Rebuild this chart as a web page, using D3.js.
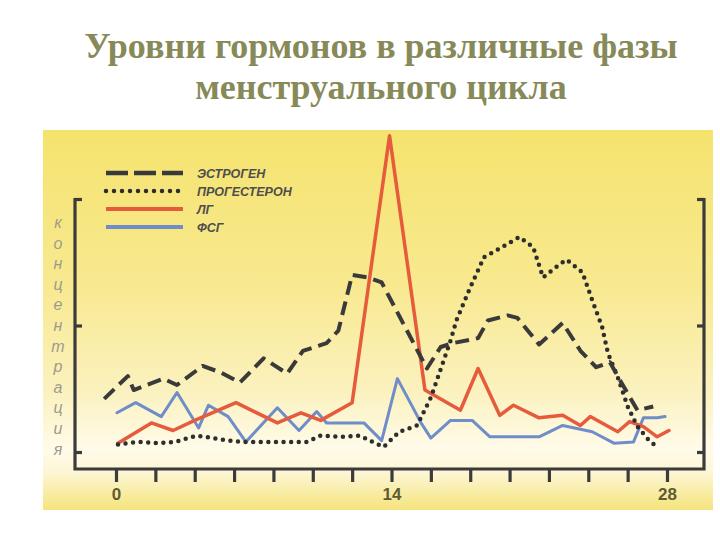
<!DOCTYPE html>
<html>
<head>
<meta charset="utf-8">
<script src="https://cdn.jsdelivr.net/npm/d3@7"></script>
<style>
  html, body { margin: 0; padding: 0; background: #ffffff; }
  svg { display: block; }
</style>
</head>
<body>
<svg id="chart" width="720" height="540"></svg>
<script>
// ---------- data (day of cycle, relative concentration) ----------
const titleLines = ["Уровни гормонов в различные фазы", "менструального цикла"];
const seriesNames = ["ЭСТРОГЕН", "ПРОГЕСТЕРОН", "ЛГ", "ФСГ"];
const yAxisLabel = "концентрация";
const xTickValues = [0, 2, 4, 6, 8, 10, 12, 14, 16, 18, 20, 22, 24, 26, 28];
const xTickLabels = [0, 14, 28];
const yTickValues = [0, 50, 100];

const estrogen = [
  [-0.6, 21], [0.6, 30], [0.9, 24.5], [2.4, 29], [3.1, 26.5], [4.4, 34], [5.3, 31.5],
  [6.3, 27.5], [7.5, 37], [8.7, 31], [9.5, 40], [10.7, 43], [11.3, 48], [12.0, 70],
  [12.8, 69], [13.5, 67], [15.8, 33], [16.5, 41.5], [17.1, 43], [18.4, 45], [18.9, 52],
  [19.9, 54], [20.4, 53], [21.5, 42.5], [22.7, 51], [23.6, 40], [24.4, 33.5], [25.1, 35.5],
  [25.6, 28.5], [26.5, 16.5], [27.3, 18]
];
const progesterone = [
  [0.1, 3], [1.1, 4], [2.2, 3.5], [3.0, 4], [4.1, 6.5], [5.3, 5], [6.3, 4], [8.3, 4],
  [9.7, 4], [10.4, 6.5], [11.4, 6], [12.4, 6.5], [12.9, 4.5], [13.6, 2], [14.4, 8],
  [15.3, 10.5], [16.0, 21.5], [17.0, 44], [17.3, 52], [18.0, 65], [18.7, 77], [19.4, 80],
  [20.5, 85], [21.2, 81], [21.7, 69], [22.6, 74.5], [22.9, 76], [23.7, 71], [24.2, 60],
  [24.7, 49.5], [25.0, 39], [25.5, 29.5], [26.0, 18], [26.5, 10], [27.1, 4.5], [27.5, 2]
];
const lh = [
  [0.1, 3.5], [1.8, 11.5], [2.9, 8.5], [4.0, 12.5], [6.1, 19.5], [8.2, 11.5], [9.4, 15.5],
  [10.4, 12.5], [12.0, 19.5], [13.9, 125], [15.7, 24.5], [17.5, 16.5], [18.4, 33],
  [19.5, 14.5], [20.2, 18.5], [21.5, 13.5], [22.7, 14.5], [23.6, 10.5], [24.1, 14],
  [25.5, 8], [26.1, 12], [26.8, 10], [27.5, 6], [28.1, 8.5]
];
const fsh = [
  [0.05, 15.5], [1.0, 19.5], [2.3, 14], [3.1, 23.5], [4.2, 9.5], [4.7, 18.5], [5.7, 14],
  [6.6, 4], [8.2, 17.5], [9.3, 8.5], [10.2, 16], [10.7, 11.5], [12.6, 11.5], [13.5, 4.5],
  [14.3, 29], [15.5, 11.5], [16.0, 5.5], [17.0, 12.5], [18.1, 12.5], [19.0, 6], [21.5, 6],
  [22.7, 10.5], [24.2, 8], [25.3, 3.5], [26.3, 4], [26.8, 13.5], [27.5, 13.5], [27.9, 14]
];

// ---------- layout ----------
const svg = d3.select("#chart");
const frame = { left: 75, right: 704, top: 198, bottom: 469 };
const x = d3.scaleLinear().domain([0, 28]).range([116, 667]);
const y = d3.scaleLinear().domain([0, 100]).range([452, 199]);

// background panel gradient
const defs = svg.append("defs");
const grad = defs.append("linearGradient").attr("id", "bg")
  .attr("x1", 0).attr("y1", 0).attr("x2", 0).attr("y2", 1);
[[0, "#f5e36e"], [0.4, "#f8e98f"], [0.68, "#fbf1bd"], [0.84, "#fffbe9"],
 [0.9, "#fdf6d6"], [1, "#f5e47c"]].forEach(([o, c]) =>
  grad.append("stop").attr("offset", o).attr("stop-color", c));
svg.append("rect").attr("x", 43).attr("y", 130).attr("width", 670).attr("height", 380)
  .attr("fill", "url(#bg)");

// title
svg.append("g").selectAll("text").data(titleLines).join("text")
  .attr("x", 381).attr("y", (d, i) => 58 + i * 41)
  .attr("text-anchor", "middle")
  .attr("font-family", "'Liberation Serif', 'Times New Roman', serif")
  .attr("font-weight", "bold").attr("font-size", 36)
  .attr("fill", "#878a58")
  .text(d => d);

// frame
const axisColor = "#3b3b3b";
svg.append("path")
  .attr("d", `M${frame.left},${frame.top}V${frame.bottom}H${frame.right}V${frame.top}`)
  .attr("fill", "none").attr("stroke", axisColor).attr("stroke-width", 3.2);

// x axis ticks
const xAxis = d3.axisBottom(x).tickValues(xTickValues).tickSize(13)
  .tickFormat(d => xTickLabels.includes(d) ? d : "");
const gx = svg.append("g").attr("transform", `translate(0,${frame.bottom})`).call(xAxis);
gx.select(".domain").remove();
gx.selectAll(".tick line").attr("stroke", axisColor).attr("stroke-width", 3.2);
gx.selectAll(".tick text").attr("dy", 0).attr("y", 31)
  .attr("font-family", "'Liberation Sans', Arial, sans-serif")
  .attr("font-weight", "bold").attr("font-size", 17).attr("fill", "#5f5b33");

// y axis ticks (left and right, pointing inward)
const gyl = svg.append("g").attr("transform", `translate(${frame.left},0)`)
  .call(d3.axisRight(y).tickValues(yTickValues).tickSize(7).tickFormat(""));
const gyr = svg.append("g").attr("transform", `translate(${frame.right},0)`)
  .call(d3.axisLeft(y).tickValues(yTickValues).tickSize(7).tickFormat(""));
[gyl, gyr].forEach(g => {
  g.select(".domain").remove();
  g.selectAll(".tick line").attr("stroke", axisColor).attr("stroke-width", 3.2);
});

// vertical y label (stacked letters)
svg.append("g").selectAll("text").data(Array.from(yAxisLabel)).join("text")
  .attr("x", 58).attr("y", (d, i) => 228 + i * 20.6)
  .attr("text-anchor", "middle")
  .attr("font-family", "'Liberation Sans', Arial, sans-serif")
  .attr("font-style", "italic").attr("font-size", 16)
  .attr("fill", "#9e9c8c")
  .text(d => d);

// series
const line = d3.line().x(d => x(d[0])).y(d => y(d[1]));
const styles = [
  { data: fsh, stroke: "#6e8dc9", width: 3, dash: null, cap: "round" },
  { data: lh, stroke: "#e65b3c", width: 3.5, dash: null, cap: "round" },
  { data: progesterone, stroke: "#2e2e2e", width: 4.5, dash: "0,7.6", cap: "round" },
  { data: estrogen, stroke: "#3a3a3a", width: 4, dash: "14,7", cap: "butt" }
];
svg.append("g").selectAll("path").data(styles).join("path")
  .attr("d", d => line(d.data))
  .attr("fill", "none")
  .attr("stroke", d => d.stroke)
  .attr("stroke-width", d => d.width)
  .attr("stroke-dasharray", d => d.dash)
  .attr("stroke-linecap", d => d.cap)
  .attr("stroke-linejoin", "round");

// legend
const legendItems = [
  { name: seriesNames[0], stroke: "#3a3a3a", width: 4.5, dash: "22,6", cap: "butt" },
  { name: seriesNames[1], stroke: "#2e2e2e", width: 4.5, dash: "0,8", cap: "round" },
  { name: seriesNames[2], stroke: "#e65b3c", width: 4, dash: null, cap: "butt" },
  { name: seriesNames[3], stroke: "#6e8dc9", width: 4, dash: null, cap: "butt" }
];
const legendY = [173, 191, 209, 227];
const lg = svg.append("g").selectAll("g").data(legendItems).join("g")
  .attr("transform", (d, i) => `translate(0,${legendY[i]})`);
lg.append("line").attr("x1", 106).attr("x2", 183).attr("y1", 0).attr("y2", 0)
  .attr("stroke", d => d.stroke).attr("stroke-width", d => d.width)
  .attr("stroke-dasharray", d => d.dash).attr("stroke-linecap", d => d.cap);
lg.append("text").attr("x", 197).attr("y", 5)
  .attr("font-family", "'Liberation Sans', Arial, sans-serif")
  .attr("font-weight", "bold").attr("font-style", "italic").attr("font-size", 12.5)
  .attr("fill", "#4e4e4e")
  .text(d => d.name);
</script>
</body>
</html>
